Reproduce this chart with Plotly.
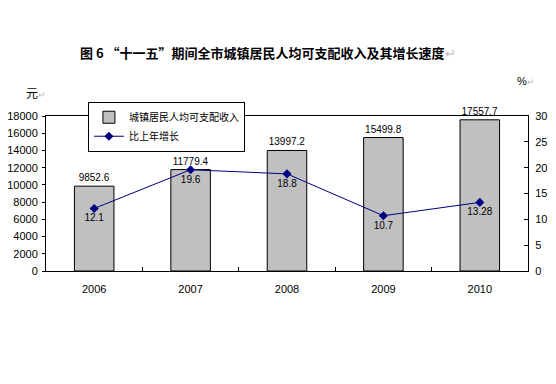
import plotly.graph_objects as go

years = ["2006", "2007", "2008", "2009", "2010"]
income = [9852.6, 11779.4, 13997.2, 15499.8, 17557.7]
growth = [12.1, 19.6, 18.8, 10.7, 13.28]
income_labels = ["9852.6", "11779.4", "13997.2", "15499.8", "17557.7"]
growth_labels = ["12.1", "19.6", "18.8", "10.7", "13.28"]

num_font = "Liberation Sans, Arial, sans-serif"
cjk_font = "Noto Sans CJK SC, sans-serif"

# page body has an 8px default margin: figure sized/offset to compensate
fig = go.Figure()
fig.add_trace(go.Bar(
    x=years, y=income, name="城镇居民人均可支配收入",
    marker=dict(color="#C0C0C0", line=dict(color="#000000", width=1)),
    width=0.41,
    text=income_labels, textposition="outside",
    textfont=dict(family=num_font, size=10, color="#000000"),
    cliponaxis=False,
))
fig.add_trace(go.Scatter(
    x=years, y=growth, name="比上年增长", yaxis="y2",
    mode="lines+markers+text",
    line=dict(color="#000080", width=1),
    marker=dict(symbol="diamond", size=7, color="#000080"),
    text=growth_labels, textposition="bottom center",
    textfont=dict(family=num_font, size=10, color="#000000"),
    cliponaxis=False,
))

fig.update_layout(
    width=540, height=368,
    margin=dict(l=38, r=20, t=108, b=105, autoexpand=False),
    paper_bgcolor="#FFFFFF", plot_bgcolor="#FFFFFF",
    showlegend=True,
    legend=dict(
        x=0.087, y=1.092, xanchor="left", yanchor="top",
        bgcolor="#FFFFFF", bordercolor="#000000", borderwidth=1,
        font=dict(family=cjk_font, size=10, color="#000000"),
        tracegroupgap=0, itemwidth=30,
    ),
    font=dict(family=num_font, size=11, color="#000000"),
    xaxis=dict(
        type="category", showline=True, linecolor="#000000", linewidth=1,
        mirror=True, ticks="inside", tickson="boundaries", ticklen=4,
        tickcolor="#000000", showgrid=False, automargin=False,
        tickfont=dict(family=num_font, size=11), ticklabelstandoff=8,
    ),
    yaxis=dict(
        range=[0, 18000], dtick=2000, tickformat="d", showline=True,
        linecolor="#000000", linewidth=1, ticks="outside", ticklen=3,
        tickcolor="#000000", showgrid=False, zeroline=False, automargin=False,
        tickfont=dict(family=num_font, size=11), ticklabelstandoff=2,
    ),
    yaxis2=dict(
        range=[0, 30], dtick=5, overlaying="y", side="right", showline=True,
        linecolor="#000000", linewidth=1, ticks="inside", ticklen=4,
        tickcolor="#000000", showgrid=False, zeroline=False,
        tickfont=dict(family=num_font, size=11), ticklabelstandoff=4,
        automargin=False,
    ),
    annotations=[
        dict(text="<b>图 6 “十一五”期间全市城镇居民人均可支配收入及其增长速度</b><span style='color:#BBBBBB'>↵</span>",
             xref="paper", yref="paper", x=0.46, y=(271 - 52) / 155,
             xanchor="center", yanchor="middle", showarrow=False,
             font=dict(family=cjk_font, size=13, color="#000000")),
        dict(text="元<span style='color:#BBBBBB;font-size:9px'>↵</span>",
             xref="paper", yref="paper", x=(24 - 46) / 482, y=(271 - 92) / 155,
             xanchor="left", yanchor="middle", showarrow=False,
             font=dict(family=cjk_font, size=12, color="#000000")),
        dict(text="%<span style='color:#BBBBBB;font-size:9px'>↵</span>",
             xref="paper", yref="paper", x=(515 - 46) / 482, y=(271 - 81) / 155,
             xanchor="left", yanchor="middle", showarrow=False,
             font=dict(family=num_font, size=11, color="#000000")),
    ],
)

fig.write_html("out.html")
